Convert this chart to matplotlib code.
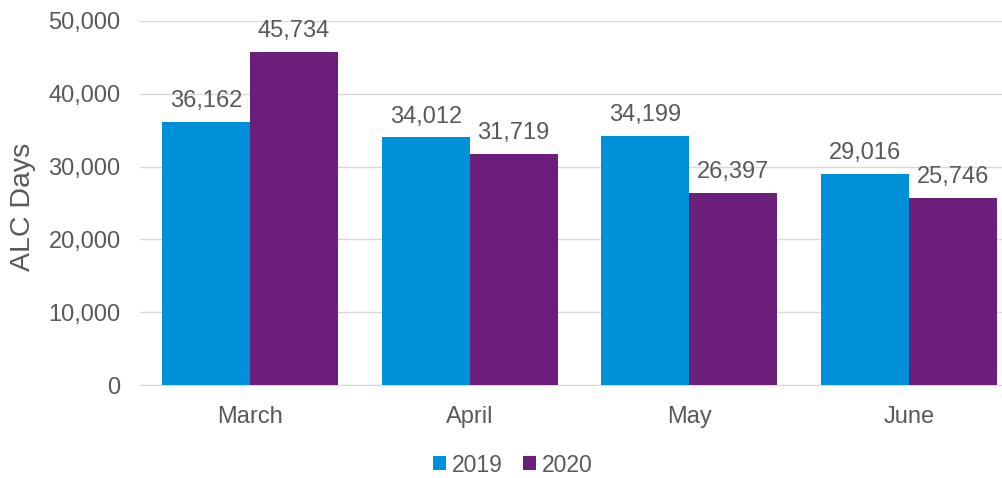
import matplotlib
matplotlib.use("Agg")
import matplotlib.pyplot as plt
import numpy as np

categories = ["March", "April", "May", "June"]
series_names = ["2019", "2020"]
values_2019 = [36162, 34012, 34199, 29016]
values_2020 = [45734, 31719, 26397, 25746]
colors = ["#0090DA", "#6C1F7A"]
text_color = "#595959"

plt.rcParams['font.family'] = ['Liberation Sans', 'DejaVu Sans']

fig = plt.figure(figsize=(10.03, 4.78), dpi=100)
ax = fig.add_axes([140 / 1003, 93 / 478, 879 / 1003, 364 / 478])

x = np.arange(len(categories))
w = 0.40
for i, (vals, name) in enumerate(zip([values_2019, values_2020], series_names)):
    pos = x + (i - 0.5) * w
    bars = ax.bar(pos, vals, width=w, color=colors[i], label=name, zorder=3)
    for b, v in zip(bars, vals):
        ax.annotate(f"{v:,}", (b.get_x() + b.get_width() / 2, v),
                    xytext=(0, 7), textcoords="offset points",
                    ha="center", va="bottom", fontsize=17, color=text_color)

ax.set_xlim(-0.5, len(categories) - 0.5)
ax.set_ylim(0, 50000)
ax.set_yticks(np.arange(0, 50001, 10000))
ax.set_yticklabels([f"{t:,}" for t in range(0, 50001, 10000)])
ax.set_xticks(x)
ax.set_xticklabels(categories)
ax.tick_params(axis='both', length=0, labelsize=17, colors=text_color)
ax.tick_params(axis='x', pad=15)
ax.tick_params(axis='y', pad=14)
ax.grid(axis='y', color="#D9D9D9", linewidth=1, zorder=0)
for s in ["top", "right", "left"]:
    ax.spines[s].set_visible(False)
ax.spines["bottom"].set_color("#D9D9D9")
ax.set_ylabel("ALC Days", fontsize=20.5, color=text_color)
ax.yaxis.set_label_coords(-0.118, 0.49)

leg = fig.legend(loc="center", bbox_to_anchor=(513 / 1003, 1 - 465 / 478), ncol=2, frameon=False,
                 fontsize=16.5, handlelength=0.57, handleheight=0.57, handletextpad=0.25,
                 columnspacing=0.9, labelcolor=text_color, borderpad=0)

fig.savefig("out.png", dpi=100)
